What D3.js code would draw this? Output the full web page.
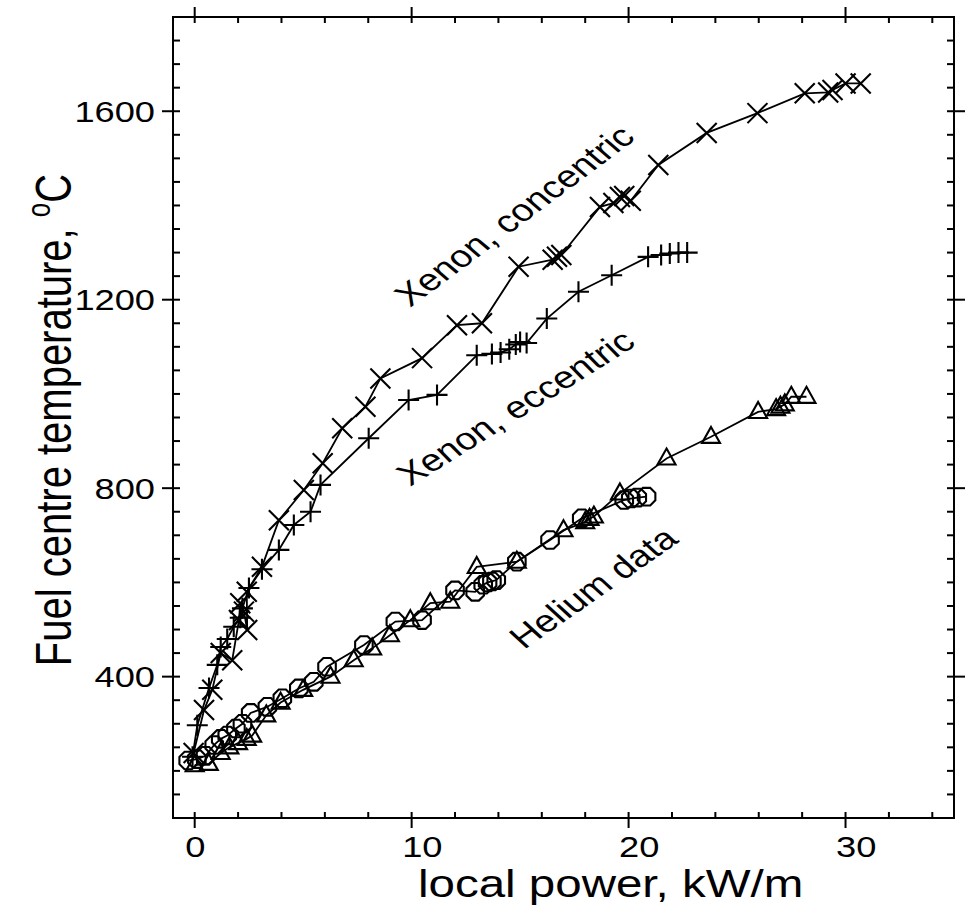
<!DOCTYPE html>
<html><head><meta charset="utf-8">
<script src="https://cdn.jsdelivr.net/npm/d3@7"></script>
<style>
body{margin:0;background:#fff}
svg{display:block}
text{font-family:"Liberation Sans",Arial,Helvetica,sans-serif;fill:#000}
</style>
</head><body>
<svg id="chart" width="966" height="905"></svg>
<script>
// ---- data (local power kW/m, fuel centre temperature °C) ----
const xenonConcentric = [
  [-0.05,238],[0.43,329],[0.81,372],[1.2,450],[1.73,435],[2.04,520],[2.1,556],[2.27,538],[2.42,499],
  [2.4,580],[3.1,633],[3.88,732],[5.03,796],[5.9,853],[6.8,927],[7.87,973],[8.56,1033],
  [10.48,1076],[12.09,1146],[13.24,1150],[14.93,1270],[16.5,1285],[16.7,1291],[16.9,1295],
  [18.68,1397],[19.3,1405],[19.6,1418],[19.8,1420],[20.1,1410],[21.37,1486],[23.6,1554],
  [25.94,1596],[28.12,1638],[29.2,1640],[29.4,1645],[30.0,1659],[30.7,1659]
];
const xenonEccentric = [
  [-0.1,230],[0.12,297],[0.66,376],[1.04,425],[1.2,463],[1.5,480],[1.8,506],[2.1,525],[2.2,545],
  [2.5,588],[3.1,628],[3.88,669],[4.57,722],[5.34,750],[5.8,807],[8.02,906],[9.86,987],
  [11.17,998],[13.0,1082],[13.7,1085],[14.1,1088],[14.5,1095],[14.8,1105],[15.0,1110],[15.3,1108],
  [16.23,1160],[17.69,1217],[19.22,1252],[20.9,1291],[21.5,1295],[21.9,1298],[22.3,1300],[22.7,1300]
];
const heliumTriangles = [
  [0.0,212],[0.65,215],[1.2,238],[1.6,250],[2.0,259],[2.4,268],[2.65,275],[3.3,318],[3.96,345],
  [5.0,372],[6.26,400],[7.33,435],[8.18,460],[9.0,488],[9.94,520],[10.86,556],[11.78,559],
  [13.0,633],[14.85,644],[17.0,711],[18.0,728],[18.2,735],[18.4,740],[19.6,789],[21.75,863],
  [23.8,909],[25.97,962],[26.8,968],[27.0,973],[27.2,978],[27.5,994],[28.2,994]
];
const heliumOctagons = [
  [-0.3,222],[0.1,225],[0.5,232],[0.9,255],[1.2,268],[1.5,275],[1.9,290],[2.2,300],[2.58,323],
  [3.35,336],[4.04,354],[4.8,375],[5.49,389],[6.1,421],[7.8,467],[9.25,517],[10.48,520],
  [12.0,583],[12.93,580],[13.3,595],[13.5,600],[13.7,602],[13.9,605],[14.85,644],[16.38,690],
  [17.84,736],[19.8,775],[20.1,778],[20.4,780],[20.83,782]
];
const xMajorTicks = [0,10,20,30];
const xMinorTicks = [2,4,6,8,12,14,16,18,22,24,26,28,32,34];
const yMajorTicks = [400,800,1200,1600];
const yMinorTicks = [150,200,250,300,350,450,500,550,600,650,700,750,850,900,950,1000,1050,1100,1150,
  1250,1300,1350,1400,1450,1500,1550,1650,1700,1750];
const xTitle = "local power, kW/m";
const yTitleMain = "Fuel centre temperature, ";
const seriesLabels = ["Xenon, concentric","Xenon, eccentric","Helium data"];

// ---- layout ----
const L=173, R=954, T=17, B=818;
const SX=1.25; // horizontal stretch of the original lettering
const svg=d3.select("#chart");
const x=d3.scaleLinear().domain([-1,35]).range([L,R]);
const y=d3.scaleLinear().domain([100,1800]).range([B,T]);

// frame
svg.append("rect").attr("x",L).attr("y",T).attr("width",R-L).attr("height",B-T)
  .attr("fill","none").attr("stroke","#000").attr("stroke-width",2);

const tk=svg.append("g").attr("stroke","#000").attr("stroke-width",2);
xMajorTicks.forEach(v=>{
  tk.append("line").attr("x1",x(v)).attr("x2",x(v)).attr("y1",B-6).attr("y2",B+10);
  tk.append("line").attr("x1",x(v)).attr("x2",x(v)).attr("y1",T+6).attr("y2",T-10);
});
xMinorTicks.forEach(v=>{
  tk.append("line").attr("x1",x(v)).attr("x2",x(v)).attr("y1",B).attr("y2",B-6);
  tk.append("line").attr("x1",x(v)).attr("x2",x(v)).attr("y1",T).attr("y2",T+6);
});
yMajorTicks.forEach(v=>{
  tk.append("line").attr("y1",y(v)).attr("y2",y(v)).attr("x1",L-11).attr("x2",L+7);
  tk.append("line").attr("y1",y(v)).attr("y2",y(v)).attr("x1",R+11).attr("x2",R-7);
});
yMinorTicks.forEach(v=>{
  tk.append("line").attr("y1",y(v)).attr("y2",y(v)).attr("x1",L).attr("x2",L+7);
  tk.append("line").attr("y1",y(v)).attr("y2",y(v)).attr("x1",R).attr("x2",R-7);
});

// tick labels
xMajorTicks.forEach(v=>{
  svg.append("text").attr("transform",`translate(${x(v)-9.5},857) scale(${SX},1)`)
    .attr("font-size",29).text(v);
});
yMajorTicks.forEach(v=>{
  svg.append("text").attr("transform",`translate(155,${y(v)+10.5}) scale(${SX},1)`)
    .attr("text-anchor","end").attr("font-size",29).text(v);
});

// axis titles
svg.append("text").attr("transform",`translate(418,897) scale(${SX},1)`)
  .attr("font-size",38).text(xTitle);
const yt=svg.append("text").attr("transform",`translate(71,420) scale(${SX},1) rotate(-90)`)
  .attr("text-anchor","middle").attr("font-size",40);
yt.append("tspan").text(yTitleMain);
yt.append("tspan").attr("font-size",26).attr("dy",-17).text("o");
yt.append("tspan").attr("dy",17).text("C");

// series lines
const line=d3.line().x(d=>x(d[0])).y(d=>y(d[1]));
const lines=svg.append("g").attr("fill","none").attr("stroke","#000").attr("stroke-width",1.8);
[xenonConcentric,xenonEccentric,heliumTriangles,heliumOctagons].forEach(s=>{
  lines.append("path").attr("d",line(s));
});

// markers
const mk=svg.append("g").attr("fill","none").attr("stroke","#000").attr("stroke-width",2.1);
const timesPath=h=>`M${-h},${-h}L${h},${h}M${-h},${h}L${h},${-h}`;
const plusPath=h=>`M${-h},0L${h},0M0,${-h}L0,${h}`;
const triPath=(w,h)=>`M0,${-h*0.62}L${w/2},${h*0.38}L${-w/2},${h*0.38}Z`;
const octPath=r=>{const p=d3.range(8).map(i=>{const a=Math.PI/8+i*Math.PI/4;return [r*Math.cos(a),r*Math.sin(a)];});
  return "M"+p.map(q=>q.join(",")).join("L")+"Z";};
function markers(data,path){
  mk.selectAll(null).data(data).enter().append("path")
    .attr("transform",d=>`translate(${x(d[0])},${y(d[1])})`).attr("d",path);
}
markers(xenonConcentric,timesPath(10));
markers(xenonEccentric,plusPath(10.5));
markers(heliumTriangles,triPath(18,16));
markers(heliumOctagons,octPath(9.5));

// series labels
const labelPos=[[410,308,43],[410,487,38],[524,650,41]];
seriesLabels.forEach((t,i)=>{
  const p=labelPos[i];
  svg.append("text").attr("transform",`translate(${p[0]},${p[1]}) scale(${SX},1) rotate(${-p[2]})`)
    .attr("font-size",31).text(t);
});
</script>
</body></html>
